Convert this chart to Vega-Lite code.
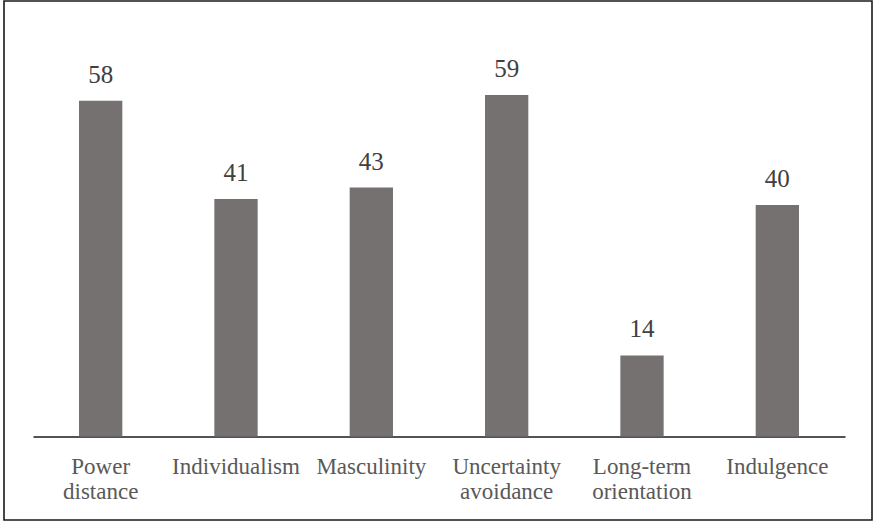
{
  "$schema": "https://vega.github.io/schema/vega-lite/v6.json",
  "width": 868,
  "height": 519,
  "autosize": {"type": "none"},
  "padding": {"left": 4, "top": 1, "right": 5, "bottom": 4},
  "background": "#ffffff",
  "config": {
    "view": {"stroke": "#1a1a1a", "strokeWidth": 1.6},
    "font": "Liberation Serif"
  },
  "data": {
    "values": [
      {"dimension": "Power distance", "score": 58},
      {"dimension": "Individualism", "score": 41},
      {"dimension": "Masculinity", "score": 43},
      {"dimension": "Uncertainty avoidance", "score": 59},
      {"dimension": "Long-term orientation", "score": 14},
      {"dimension": "Indulgence", "score": 40}
    ]
  },
  "encoding": {
    "x": {
      "field": "dimension",
      "type": "nominal",
      "sort": null,
      "scale": {"range": [29, 841], "paddingInner": 0.68, "paddingOuter": 0.34},
      "axis": {
        "title": null,
        "orient": "bottom",
        "offset": -83.5,
        "domain": true,
        "domainColor": "#1a1a1a",
        "domainWidth": 1.3,
        "ticks": false,
        "labelAngle": 0,
        "labelPadding": 19,
        "labelFont": "Liberation Serif",
        "labelFontSize": 23,
        "labelColor": "#595959",
        "labelLineHeight": 25,
        "labelLimit": 0,
        "labelOverlap": false,
        "labelExpr": "split(datum.label, ' ')"
      }
    },
    "y": {
      "field": "score",
      "type": "quantitative",
      "scale": {"domain": [0, 70], "range": [435.5, 30.2], "nice": false},
      "axis": null
    }
  },
  "layer": [
    {"mark": {"type": "bar", "color": "#767171"}},
    {
      "mark": {
        "type": "text",
        "baseline": "alphabetic",
        "dy": -18,
        "font": "Liberation Serif",
        "fontSize": 25,
        "color": "#404040"
      },
      "encoding": {"text": {"field": "score", "type": "quantitative"}}
    }
  ]
}
